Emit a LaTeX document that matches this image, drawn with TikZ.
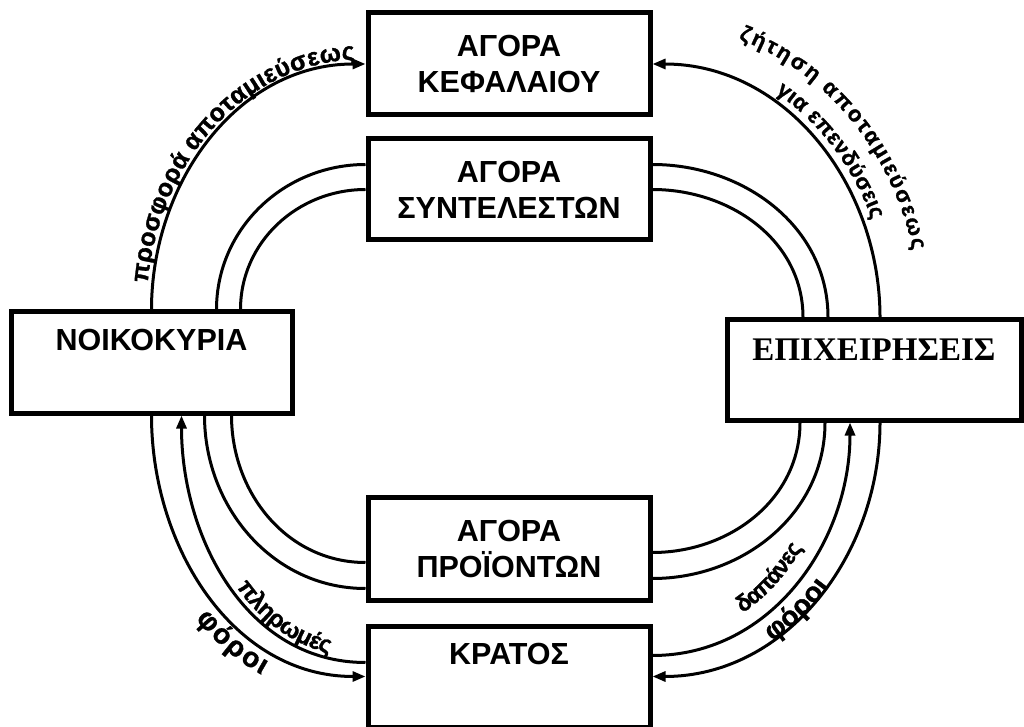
\documentclass[tikz,border=0pt]{standalone}
\usepackage{fontspec}
\setmainfont{Liberation Sans}
\newfontfamily\serifgr{Liberation Serif}
\newfontfamily\curvebf{Liberation Sans Bold}[FakeBold=1.2]
\usetikzlibrary{arrows.meta,decorations.text}
\newcommand{\curvefont}[1]{\curvebf\fontsize{#1}{#1}\selectfont}

\begin{document}
\begin{tikzpicture}[
    x=1pt, y=1pt,
    box/.style={draw=black, line width=5pt, fill=white, minimum width=282pt, minimum height=102pt, inner sep=0pt},
    boxtext/.style={font=\bfseries\fontsize{30.5}{36}\selectfont, align=center, inner sep=0pt},
    wire/.style={line width=3pt},
    arrow/.style={wire, -{Triangle[length=13pt, width=10pt]}}
]
\path[use as bounding box] (0,0) rectangle (1024,726);
\clip (0,0) rectangle (1024,726);

\node[box, boxtext] (kap) at (509,662) {ΑΓΟΡΑ\\ΚΕΦΑΛΑΙΟΥ};
\node[box, boxtext, minimum height=101pt] (syn) at (509,536.5) {ΑΓΟΡΑ\\ΣΥΝΤΕΛΕΣΤΩΝ};
\node[box, minimum width=281pt, minimum height=101pt] (nik) at (151.5,363.5) {};
\node[box, minimum width=294pt, minimum height=100pt] (epi) at (874,356) {};
\node[box, boxtext, minimum height=103pt] (pro) at (509,177.5) {ΑΓΟΡΑ\\ΠΡΟΪΟΝΤΩΝ};
\node[box, minimum height=101pt] (kra) at (509,49.5) {};

\node[boxtext] (nikT) at ([yshift=-31pt]nik.north) {ΝΟΙΚΟΚΥΡΙΑ};
\node[boxtext, font=\serifgr\bfseries\fontsize{33}{36}\selectfont] (epiT) at ([yshift=-32pt]epi.north) {ΕΠΙΧΕΙΡΗΣΕΙΣ};
\node[boxtext] (kraT) at ([yshift=-30pt]kra.north) {ΚΡΑΤΟΣ};

% capital market
\draw[arrow] (nik.north) to[out=90, in=180] (kap.west);
\draw[arrow] ([xshift=6pt]epi.north) to[out=90, in=0] (kap.east);
\path[decorate, decoration={text along path, text={|\curvefont{25}|προσφορά αποταμιεύσεως}, text align={right, right indent=10pt}, raise=5pt}]
    (nik.north) to[out=90, in=180] (kap.west);
\path[decorate, decoration={text along path, text={|\curvefont{22}|ζήτηση αποταμιεύσεως}, text align={left, left indent=73pt}, raise=40pt}]
    (kap.east) to[out=0, in=90] ([xshift=6pt]epi.north);
\path[decorate, decoration={text along path, text={|\curvefont{22}|για επενδύσεις}, text align={left, left indent=125pt}, raise=9pt}]
    (kap.east) to[out=0, in=90] ([xshift=6pt]epi.north);

% factor market
\draw[wire] ([yshift=25pt]syn.west) to[out=180, in=90] ([xshift=65pt]nik.north);
\draw[wire] (syn.west) to[out=180, in=90] ([xshift=89pt]nik.north);
\draw[wire] ([yshift=25pt]syn.east) to[out=0, in=90] ([xshift=-46pt]epi.north);
\draw[wire] (syn.east) to[out=0, in=90] ([xshift=-71pt]epi.north);

% product market
\draw[wire] ([xshift=53pt]nik.south) to[out=-90, in=180] ([yshift=-40pt]pro.west);
\draw[wire] ([xshift=80pt]nik.south) to[out=-90, in=180] ([yshift=-14pt]pro.west);
\draw[wire] ([xshift=-74pt]epi.south) to[out=-90, in=0] ([yshift=-4pt]pro.east);
\draw[wire] ([xshift=-49pt]epi.south) to[out=-90, in=0] ([yshift=-30pt]pro.east);

% state
\draw[arrow] (nik.south) to[out=-90, in=180] (kra.west);
\draw[arrow] ([yshift=14pt]kra.west) to[out=180, in=-90] ([xshift=30pt]nik.south);
\draw[arrow] ([yshift=21pt]kra.east) to[out=0, in=-90] ([xshift=-24pt]epi.south);
\draw[arrow] ([xshift=6pt]epi.south) to[out=-90, in=0] (kra.east);
\path[decorate, decoration={text along path, text={|\curvefont{24}|πληρωμές}, text align={right, right indent=38pt}, raise=5pt}]
    ([xshift=30pt]nik.south) to[out=-90, in=180] ([yshift=14pt]kra.west);
\path[decorate, decoration={text along path, text={|\curvefont{28}|φόροι}, text align={right, right indent=95pt}, raise=-25pt}]
    (nik.south) to[out=-90, in=180] (kra.west);
\path[decorate, decoration={text along path, text={|\curvefont{23}|δαπάνες}, text align={left, left indent=105pt}, raise=15pt}]
    ([yshift=21pt]kra.east) to[out=0, in=-90] ([xshift=-24pt]epi.south);
\path[decorate, decoration={text along path, text={|\curvefont{28}|φόροι}, text align={left, left indent=126pt}, raise=-2pt}]
    (kra.east) to[out=0, in=-90] ([xshift=6pt]epi.south);

\end{tikzpicture}
\end{document}
